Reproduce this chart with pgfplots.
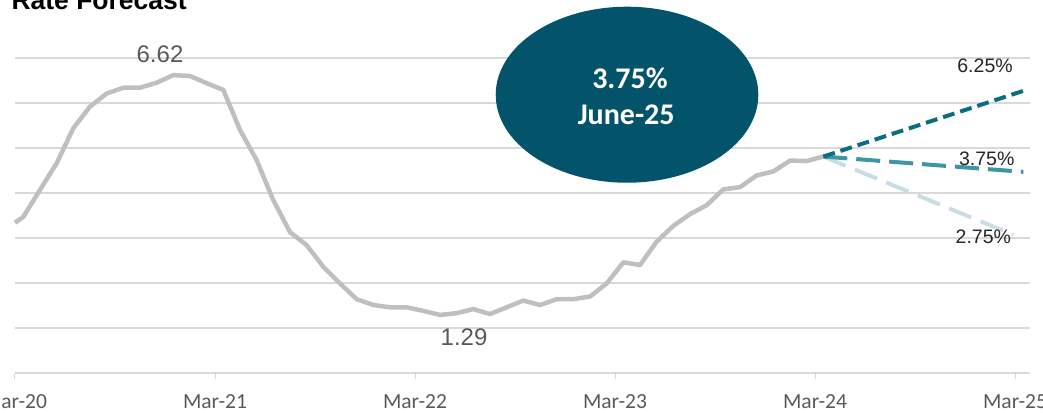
\documentclass[border=0pt]{standalone}
\usepackage{pgfplots}
\pgfplotsset{compat=1.18}
\usepackage{fontspec}
\setmainfont{Carlito}
\newfontfamily\lsans{Liberation Sans}

\definecolor{gridgray}{HTML}{D9D9D9}
\definecolor{histgray}{HTML}{BFBFBF}
\definecolor{labgray}{HTML}{595959}
\definecolor{darkteal}{HTML}{0B6C82}
\definecolor{midteal}{HTML}{3E95A8}
\definecolor{lightteal}{HTML}{C8DEE4}
\definecolor{bubble}{HTML}{03536A}

\begin{document}
\begin{tikzpicture}
\begin{axis}[
    at={(0,0)}, anchor=south west,
    scale only axis,
    width=1015pt, height=315pt,
    xmin=0, xmax=60.9,
    ymin=0, ymax=7,
    clip=false,
    separate axis lines,
    axis x line*=bottom,
    axis y line*=left,
    x axis line style={draw=gridgray, line width=1.3pt, -},
    y axis line style={draw=none},
    xtick={0,12,24,36,48,60},
    xticklabels={Mar-20,Mar-21,Mar-22,Mar-23,Mar-24,Mar-25},
    tick align=outside,
    major tick length=6pt,
    xtick style={draw=gridgray, line width=1pt},
    ytick={1,2,3,4,5,6,7},
    yticklabels={},
    ytick style={draw=none},
    ymajorgrids=true,
    grid style={draw=gridgray, line width=1.3pt},
    x tick label style={font=\fontsize{21.5}{25}\selectfont, text=labgray, anchor=base, yshift=-29pt},
]

% historical rate (monthly)
\addplot[histgray, line width=4.5pt, line join=round] coordinates {
    (0,3.34) (0.5,3.47) (1.5,4.07) (2.5,4.66) (3.5,5.44) (4.5,5.92)
    (5.5,6.21) (6.5,6.34) (7.5,6.34) (8.5,6.45) (9.5,6.62) (10.5,6.60)
    (11.5,6.44) (12.5,6.29) (13.5,5.40) (14.5,4.73) (15.5,3.84) (16.5,3.13)
    (17.5,2.84) (18.5,2.36) (19.5,1.99) (20.5,1.64) (21.5,1.51) (22.5,1.46)
    (23.5,1.46) (24.5,1.38) (25.5,1.29) (26.5,1.33) (27.5,1.42) (28.5,1.31)
    (29.5,1.46) (30.5,1.61) (31.5,1.51) (32.5,1.64) (33.5,1.64) (34.5,1.70)
    (35.5,1.99) (36.5,2.46) (37.5,2.40) (38.5,2.92) (39.5,3.27) (40.5,3.53)
    (41.5,3.73) (42.5,4.08) (43.5,4.13) (44.5,4.39) (45.5,4.48) (46.5,4.72)
    (47.5,4.71) (48.5,4.81)
};

% forecast scenarios
\addplot[lightteal, line width=4pt, dash pattern=on 24pt off 10pt] coordinates {(48.5,4.81) (59.9,3.07)};
\addplot[midteal, line width=4pt, dash pattern=on 24pt off 9pt] coordinates {(48.5,4.81) (60.5,4.47)};
\addplot[darkteal, line width=4pt, dash pattern=on 12pt off 6pt] coordinates {(48.5,4.81) (60.5,6.27)};

% data labels
\node[anchor=base, text=labgray, font=\lsans\fontsize{24}{28}\selectfont] at (axis cs:8.7,6.91) {6.62};
\node[anchor=base, text=labgray, font=\lsans\fontsize{24}{28}\selectfont] at (axis cs:26.94,0.607) {1.29};
\node[anchor=base, text=black!85, font=\lsans\fontsize{19.5}{23}\selectfont] at (axis cs:58.2,6.673) {6.25\%};
\node[anchor=base, text=black!85, font=\lsans\fontsize{19.5}{23}\selectfont] at (axis cs:58.3,4.62) {3.75\%};
\node[anchor=base, text=black!85, font=\lsans\fontsize{19.5}{23}\selectfont] at (axis cs:58.1,2.88) {2.75\%};

% callout bubble
\fill[bubble] (axis cs:36.72,6.184) ellipse [x radius=131.3pt, y radius=88pt];
\node[anchor=base, text=white, font=\bfseries\fontsize{30}{34}\selectfont] at (axis cs:36.9,6.33) {3.75\%};
\node[anchor=base, text=white, font=\bfseries\fontsize{30}{34}\selectfont] at (axis cs:36.67,5.53) {June-25};
\end{axis}

\node[anchor=base west, font=\lsans\bfseries\fontsize{26.5}{30}\selectfont] at (-7pt,363pt) {Rate Forecast};

\pgfresetboundingbox
\path[use as bounding box] (-15pt,-39pt) rectangle (1028pt,373pt);
\end{tikzpicture}
\end{document}
